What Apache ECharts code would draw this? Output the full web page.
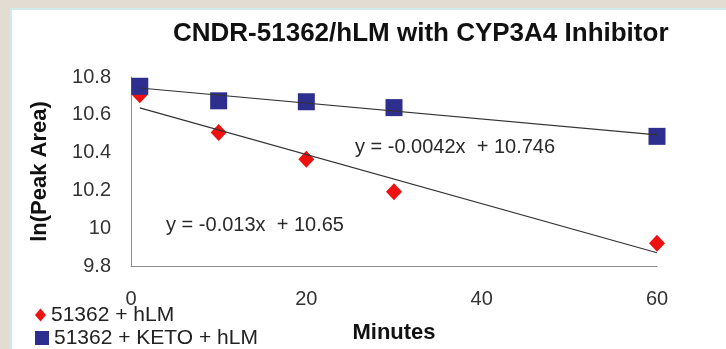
<!DOCTYPE html>
<html>
<head>
<meta charset="utf-8">
<script src="https://cdn.jsdelivr.net/npm/echarts@6/dist/echarts.min.js"></script>
<style>
html,body{margin:0;padding:0;background:#e2dcd2;}
#chart{width:726px;height:349px;}
</style>
</head>
<body>
<div id="chart"></div>
<script>
// ---- data ----
var minutes = [1, 10, 20, 30, 60];
var hlmValues = [10.706, 10.507, 10.365, 10.193, 9.92];
var ketoValues = [10.751, 10.674, 10.669, 10.638, 10.486];
var seriesNames = ['51362 + hLM', '51362 + KETO + hLM'];
var trendSlopes = [-0.013, -0.0042];
var trendIntercepts = [10.65, 10.746];
var trendLabels = ['y = -0.013x  + 10.65', 'y = -0.0042x  + 10.746'];
var xTickLabels = ['0', '20', '40', '60'];
var yTickLabels = ['9.8', '10', '10.2', '10.4', '10.6', '10.8'];
var titleText = 'CNDR-51362/hLM with CYP3A4 Inhibitor';
var xName = 'Minutes';
var yName = 'ln(Peak Area)';

var xMin = 0, xMax = 60, xStep = 20;
var yMin = 9.8, yMax = 10.8, yStep = 0.2;

function pairs(xs, ys) { return xs.map(function (x, i) { return [x, ys[i]]; }); }
function trend(k) {
  var x0 = minutes[0], x1 = minutes[minutes.length - 1];
  return [[x0, trendIntercepts[k] + trendSlopes[k] * x0], [x1, trendIntercepts[k] + trendSlopes[k] * x1]];
}

var FONT = 'Arial, "Liberation Sans", sans-serif';
var chart = echarts.init(document.getElementById('chart'), null, {renderer: 'canvas'});
var option = {
  backgroundColor: '#e2dcd2',
  animation: false,
  title: {
    text: titleText,
    left: 168, top: 16,
    textStyle: {fontFamily: FONT, fontSize: 26, fontWeight: 'bold', color: '#111'}
  },
  graphic: [
    {type: 'rect', z: -10, shape: {x: 11, y: 9, width: 730, height: 360},
     style: {fill: '#ffffff', stroke: '#d2eaea', lineWidth: 2}},
    {type: 'text', z: 10, x: 455, y: 147,
     style: {text: trendLabels[1], fontFamily: FONT, fontSize: 20, fill: '#2a2a2a', align: 'center', verticalAlign: 'middle'}},
    {type: 'text', z: 10, x: 255, y: 225,
     style: {text: trendLabels[0], fontFamily: FONT, fontSize: 20, fill: '#2a2a2a', align: 'center', verticalAlign: 'middle'}}
  ],
  legend: [
    {data: [{name: seriesNames[0], icon: 'diamond'}], orient: 'vertical', left: 35, top: 304,
     itemWidth: 11, itemHeight: 13, padding: 0,
     textStyle: {fontFamily: FONT, fontSize: 21, color: '#222', lineHeight: 22}},
    {data: [{name: seriesNames[1], icon: 'rect'}], orient: 'vertical', left: 35, top: 327,
     itemWidth: 14, itemHeight: 14, padding: 0,
     textStyle: {fontFamily: FONT, fontSize: 21, color: '#222', lineHeight: 22}}
  ],
  grid: {left: 131, right: 69, top: 77, bottom: 81, containLabel: false},
  xAxis: {
    type: 'value', min: xMin, max: xMax, interval: xStep,
    name: xName, nameLocation: 'middle', nameGap: 56,
    nameTextStyle: {fontFamily: FONT, fontSize: 22, fontWeight: 'bold', color: '#111'},
    axisLine: {show: true, lineStyle: {color: '#8c8c8c', width: 1}},
    axisTick: {show: false},
    splitLine: {show: false},
    axisLabel: {margin: 23, fontFamily: FONT, fontSize: 20, color: '#333',
      formatter: function (v) { return xTickLabels[Math.round((v - xMin) / xStep)]; }}
  },
  yAxis: {
    type: 'value', min: yMin, max: yMax, interval: yStep,
    name: yName, nameLocation: 'middle', nameGap: 80, nameRotate: 90,
    nameTextStyle: {fontFamily: FONT, fontSize: 22, fontWeight: 'bold', color: '#111'},
    axisLine: {show: true, lineStyle: {color: '#8c8c8c', width: 1}},
    axisTick: {show: false},
    splitLine: {show: false},
    axisLabel: {margin: 20, fontFamily: FONT, fontSize: 20, color: '#333',
      formatter: function (v) { return yTickLabels[Math.round((v - yMin) / yStep)]; }}
  },
  series: [
    {name: seriesNames[0], type: 'scatter', data: pairs(minutes, hlmValues),
     symbol: 'diamond', symbolSize: [16, 17], itemStyle: {color: '#ee1111', opacity: 1}, z: 2},
    {name: seriesNames[1], type: 'scatter', data: pairs(minutes, ketoValues),
     symbol: 'rect', symbolSize: [17, 17], itemStyle: {color: '#2e2e8e', opacity: 1}, z: 3},
    {name: 'trend0', type: 'line', data: trend(0), symbol: 'none', silent: true, z: 5,
     lineStyle: {color: '#333', width: 1.2}},
    {name: 'trend1', type: 'line', data: trend(1), symbol: 'none', silent: true, z: 5,
     lineStyle: {color: '#333', width: 1.2}}
  ]
};
chart.setOption(option);
</script>
</body>
</html>
